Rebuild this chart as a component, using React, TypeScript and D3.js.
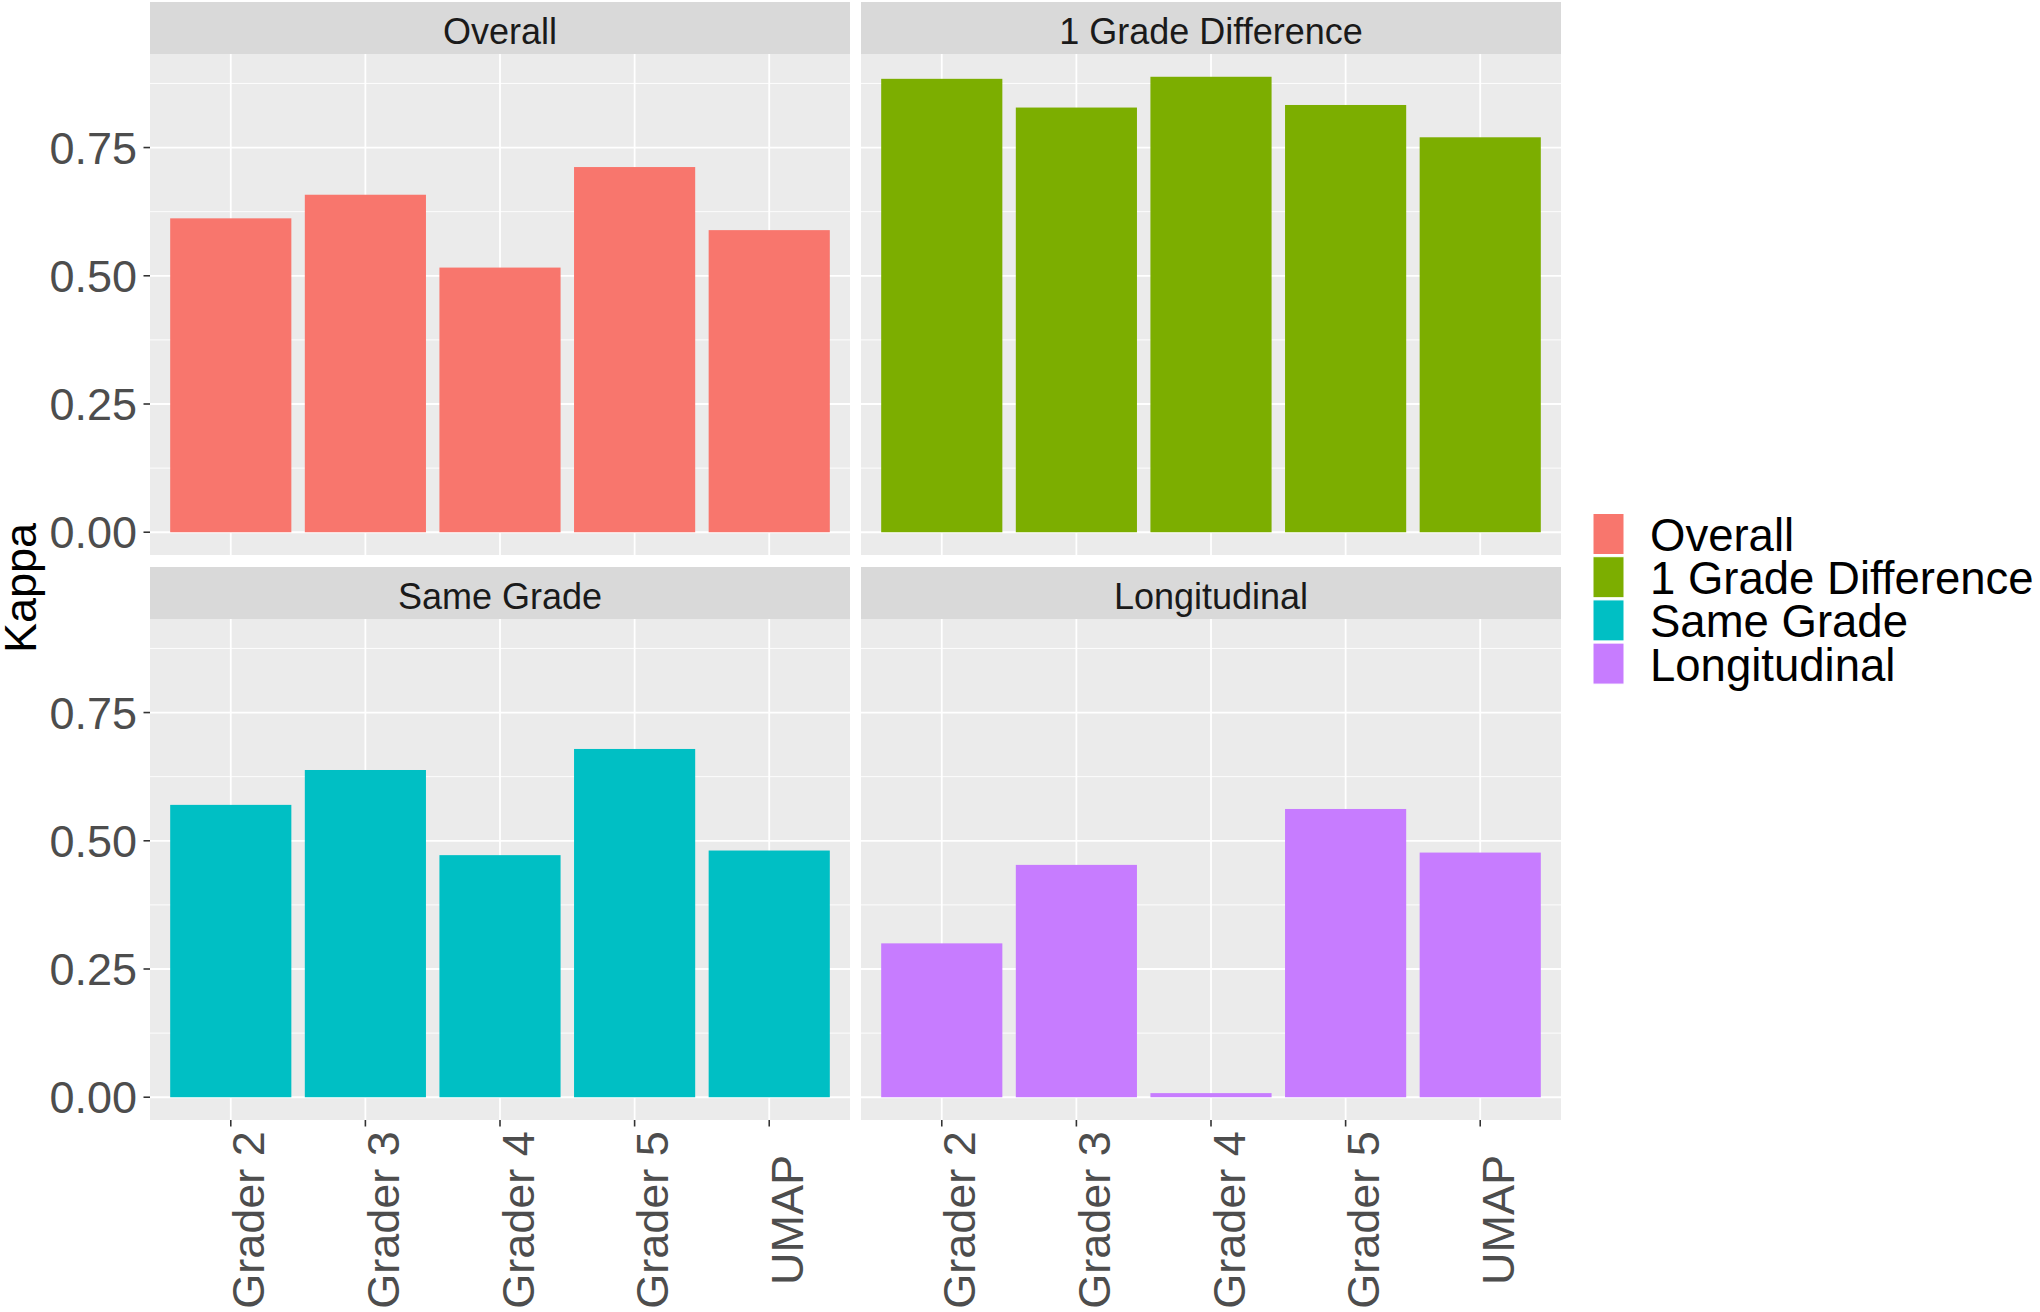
import React from "react";
import * as d3 from "d3";

const categories = ["Grader 2", "Grader 3", "Grader 4", "Grader 5", "UMAP"];
const facets = ["Overall", "1 Grade Difference", "Same Grade", "Longitudinal"];
const overallValues = [0.612, 0.658, 0.516, 0.712, 0.589];
const oneGradeValues = [0.884, 0.828, 0.888, 0.833, 0.770];
const sameGradeValues = [0.570, 0.638, 0.472, 0.679, 0.481];
const longitudinalValues = [0.300, 0.453, 0.008, 0.562, 0.477];
const yTicks = [0, 0.25, 0.5, 0.75];
const yMinor = [0.125, 0.375, 0.625, 0.875];
const colors = ["#F8766D", "#7CAE00", "#00BFC4", "#C77CFF"];
const yTitle = "Kappa";

const seriesValues = [overallValues, oneGradeValues, sameGradeValues, longitudinalValues];

const W = 2040;
const H = 1312;
const FONT = "'Liberation Sans', Arial, Helvetica, sans-serif";

const colX = [150, 861];
const panelW = 700;
const rowStripTop = [2, 567];
const stripH = 52;
const panelH = 501;

export default function App() {
  const maxV = d3.max(seriesValues.flat()) as number;
  const span = maxV - 0;
  const yDomain: [number, number] = [0 - 0.05 * span, maxV + 0.05 * span];

  const panels = facets.map((name, i) => {
    const col = i % 2;
    const row = Math.floor(i / 2);
    const x0 = colX[col];
    const stripTop = rowStripTop[row];
    const pTop = stripTop + stripH;
    const pBottom = pTop + panelH;
    const x = d3.scaleBand<string>().domain(categories).range([x0, x0 + panelW]).paddingInner(0.1).paddingOuter(0.15);
    const y = d3.scaleLinear().domain(yDomain).range([pBottom, pTop]);
    return { name, i, col, row, x0, stripTop, pTop, pBottom, x, y };
  });

  return (
    <svg width={W} height={H} style={{ position: "absolute", left: 0, top: 0, background: "#fff" }} fontFamily={FONT}>
      <rect x={0} y={0} width={W} height={H} fill="#ffffff" />
      {panels.map((p) => {
        const vals = seriesValues[p.i];
        const bw = p.x.bandwidth();
        return (
          <g key={p.name}>
            {/* strip */}
            <rect x={p.x0} y={p.stripTop} width={panelW} height={stripH} fill="#D9D9D9" />
            <text x={p.x0 + panelW / 2} y={p.stripTop + 41.5} textAnchor="middle" fontSize={36} fill="#1A1A1A">
              {p.name}
            </text>
            {/* panel */}
            <rect x={p.x0} y={p.pTop} width={panelW} height={panelH} fill="#EBEBEB" />
            {yMinor.map((t) => (
              <line key={"mn" + t} x1={p.x0} x2={p.x0 + panelW} y1={p.y(t)} y2={p.y(t)} stroke="#ffffff" strokeWidth={0.9} />
            ))}
            {yTicks.map((t) => (
              <line key={"mj" + t} x1={p.x0} x2={p.x0 + panelW} y1={p.y(t)} y2={p.y(t)} stroke="#ffffff" strokeWidth={1.8} />
            ))}
            {categories.map((c) => {
              const cx = (p.x(c) as number) + bw / 2;
              return <line key={"v" + c} x1={cx} x2={cx} y1={p.pTop} y2={p.pBottom} stroke="#ffffff" strokeWidth={1.8} />;
            })}
            {/* bars */}
            {categories.map((c, j) => (
              <rect
                key={"b" + c}
                x={p.x(c) as number}
                y={p.y(vals[j])}
                width={bw}
                height={p.y(0) - p.y(vals[j])}
                fill={colors[p.i]}
              />
            ))}
            {/* y axis */}
            {p.col === 0 &&
              yTicks.map((t) => (
                <g key={"yt" + t}>
                  <line x1={p.x0 - 6.5} x2={p.x0} y1={p.y(t)} y2={p.y(t)} stroke="#333333" strokeWidth={1.6} />
                  <text x={p.x0 - 13} y={p.y(t) + 16} textAnchor="end" fontSize={45} fill="#4D4D4D">
                    {d3.format(".2f")(t)}
                  </text>
                </g>
              ))}
            {/* x axis */}
            {p.row === 1 &&
              categories.map((c) => {
                const cx = (p.x(c) as number) + bw / 2;
                return (
                  <g key={"xt" + c}>
                    <line x1={cx} x2={cx} y1={p.pBottom} y2={p.pBottom + 6.5} stroke="#333333" strokeWidth={1.6} />
                    <text
                      transform={`translate(${cx + 33.5},${p.pBottom + 100}) rotate(-90)`}
                      textAnchor="middle"
                      fontSize={45}
                      fill="#4D4D4D"
                    >
                      {c}
                    </text>
                  </g>
                );
              })}
          </g>
        );
      })}
      {/* y title */}
      <text transform={`translate(36,588) rotate(-90)`} textAnchor="middle" fontSize={45} fill="#000000">
        {yTitle}
      </text>
      {/* legend */}
      {facets.map((f, i) => {
        const ky = 513.5 + i * 43.2;
        return (
          <g key={"lg" + f}>
            <rect x={1593} y={ky} width={31} height={41} fill={colors[i]} stroke="#ffffff" strokeWidth={1} />
            <text x={1650} y={ky + 37.5} fontSize={45.5} fill="#000000">
              {f}
            </text>
          </g>
        );
      })}
    </svg>
  );
}
